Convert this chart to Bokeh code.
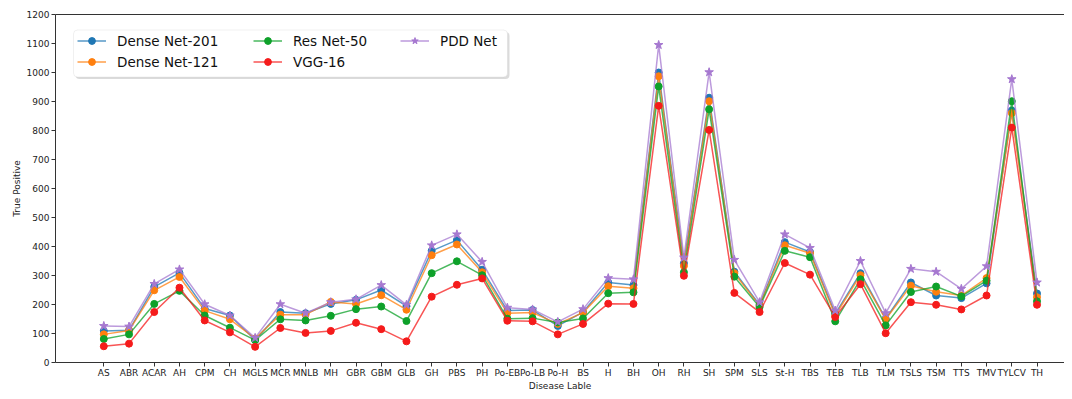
from bokeh.plotting import figure
from bokeh.models import Legend, LegendItem, FixedTicker, Range1d, LinearAxis, BoxAnnotation
from bokeh.embed import file_html
from bokeh.resources import INLINE

categories = ["AS", "ABR", "ACAR", "AH", "CPM", "CH", "MGLS", "MCR", "MNLB", "MH",
              "GBR", "GBM", "GLB", "GH", "PBS", "PH", "Po-EB", "Po-LB", "Po-H", "BS",
              "H", "BH", "OH", "RH", "SH", "SPM", "SLS", "St-H", "TBS", "TEB",
              "TLB", "TLM", "TSLS", "TSM", "TTS", "TMV", "TYLCV", "TH"]

densenet201 = [109, 111, 261, 309, 186, 162, 78, 174, 170, 202, 216, 250, 194, 385, 422, 320,
               179, 181, 126, 174, 276, 267, 1000, 342, 913, 313, 199, 415, 381, 168, 308,
               151, 276, 231, 222, 273, 869, 238]
densenet121 = [97, 110, 249, 295, 179, 149, 83, 165, 165, 209, 202, 232, 182, 370, 407, 311,
               170, 172, 133, 172, 263, 256, 987, 333, 901, 308, 196, 404, 377, 162, 301,
               149, 265, 244, 231, 291, 860, 225]
resnet50 = [81, 97, 202, 247, 162, 120, 77, 149, 145, 161, 184, 193, 143, 308, 349, 301,
            151, 153, 138, 152, 239, 242, 952, 311, 873, 296, 191, 385, 363, 142, 287,
            128, 243, 262, 228, 282, 901, 211]
vgg16 = [56, 65, 174, 258, 145, 104, 54, 119, 102, 109, 137, 115, 73, 227, 268, 290,
         144, 142, 97, 133, 203, 202, 885, 299, 802, 240, 174, 343, 303, 157, 270,
         101, 208, 199, 183, 231, 810, 199]
pddnet = [126, 124, 271, 321, 201, 162, 85, 201, 170, 208, 218, 267, 199, 404, 442, 347,
          189, 183, 140, 184, 291, 287, 1095, 362, 1001, 354, 208, 442, 395, 179, 350,
          170, 323, 313, 254, 332, 977, 276]

y_ticks = list(range(0, 1201, 100))

series = [
    ("Dense Net-201", densenet201, "#1f77b4", "circle"),
    ("Dense Net-121", densenet121, "#ff7f0e", "circle"),
    ("Res Net-50", resnet50, "#0ea12a", "circle"),
    ("VGG-16", vgg16, "#f51b1b", "circle"),
    ("PDD Net", pddnet, "#a678d0", "star"),
]

xs = list(range(len(categories)))

FW, FH = 1009, 348
p = figure(frame_width=FW, frame_height=FH, output_backend="svg", toolbar_location=None,
           x_range=Range1d(-1.915, 38.09), y_range=Range1d(0, 1200),
           min_border_left=55, min_border_top=14, min_border_right=0, min_border_bottom=29)
p.grid.visible = False
p.outline_line_color = None
p.background_fill_color = "white"
p.border_fill_color = "white"

renderers = []
for name, vals, col, mk in series:
    r1 = p.line(xs, vals, line_color=col, line_width=1.5, line_alpha=0.75)
    if mk == "star":
        r2 = p.scatter(xs, vals, marker="star", size=9, fill_color=col, line_color=col)
    else:
        r2 = p.scatter(xs, vals, marker="circle", size=7, fill_color=col, line_color=col)
    renderers.append((name, r1, r2))

p.xaxis.ticker = FixedTicker(ticks=xs)
p.xaxis.major_label_overrides = {i: c for i, c in enumerate(categories)}
p.yaxis.ticker = FixedTicker(ticks=y_ticks)

for ax in (p.xaxis[0], p.yaxis[0]):
    ax.axis_line_color = "#333333"
    ax.major_tick_line_color = "#333333"
    ax.major_tick_out = 4
    ax.major_tick_in = 0
    ax.minor_tick_out = 0
    ax.minor_tick_in = 0
    ax.major_label_standoff = 2
    ax.major_label_text_font = "DejaVu Sans"
    ax.major_label_text_font_size = "9px"
    ax.major_label_text_color = "#222222"
    ax.axis_label_text_font = "DejaVu Sans"
    ax.axis_label_text_font_size = "9px"
    ax.axis_label_text_font_style = "normal"
    ax.axis_label_text_color = "#222222"
    ax.axis_label_standoff = 0

p.xaxis.major_label_standoff = 1
p.xaxis.axis_label = "Disease Lable"
p.yaxis.axis_label = "True Positive"
p.yaxis.axis_label_standoff = 2

# top spine
top = LinearAxis(ticker=FixedTicker(ticks=[]), major_tick_out=0, major_tick_in=0,
                 minor_tick_out=0, minor_tick_in=0, major_label_text_font_size="0px",
                 axis_line_color="#333333")
p.add_layout(top, "above")

# legend frame (rounded box with a faint shadow), in screen units from frame bottom-left
BX0, BX1 = 18, 452
BY1 = FH - 15.5
BY0 = BY1 - 47
shadow = BoxAnnotation(left=BX0 + 2, right=BX1 + 2, bottom=BY0 - 2, top=BY1 - 2,
                       left_units="screen", right_units="screen",
                       bottom_units="screen", top_units="screen",
                       fill_color="#999999", fill_alpha=0.35, line_color=None,
                       border_radius=4)
box = BoxAnnotation(left=BX0, right=BX1, bottom=BY0, top=BY1,
                    left_units="screen", right_units="screen",
                    bottom_units="screen", top_units="screen",
                    fill_color="white", fill_alpha=1.0, line_color="#cccccc",
                    line_width=1, border_radius=4)
p.add_layout(shadow)
p.add_layout(box)

common = dict(label_text_font="DejaVu Sans", label_text_font_size="13.5px",
              label_text_color="#111111",
              glyph_width=29, glyph_height=17, label_height=17, label_standoff=11,
              spacing=4, padding=0, margin=0,
              border_line_color=None, background_fill_alpha=0.0,
              orientation="vertical")

row_top = BY1 - 2.5
cols = [(22, renderers[0:2]), (198, renderers[2:4]), (345, renderers[4:5])]
for xoff, group in cols:
    items = [LegendItem(label=n, renderers=[a, b]) for n, a, b in group]
    h = 17 * len(items) + 4 * (len(items) - 1)
    lg = Legend(items=items, location=(xoff, row_top - h), **common)
    p.add_layout(lg, "center")

open("out.html", "w").write(file_html(p, INLINE))
